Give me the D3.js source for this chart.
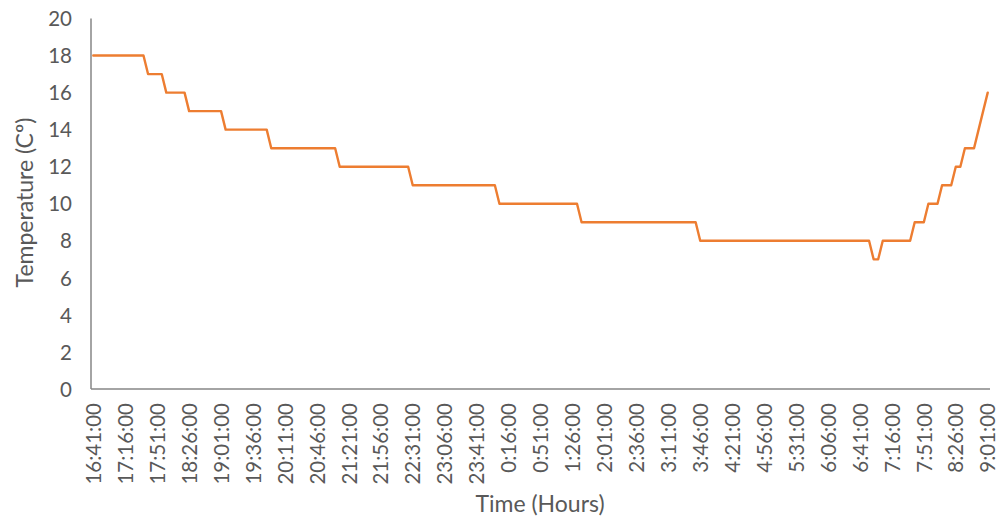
<!DOCTYPE html>
<html>
<head>
<meta charset="utf-8">
<script src="https://cdn.jsdelivr.net/npm/d3@7"></script>
<style>
  html, body { margin: 0; padding: 0; background: #fff; }
  svg { display: block; }
  text { font-family: Lato, "Open Sans", sans-serif; fill: #595959; }
</style>
</head>
<body>
<svg id="chart" width="1001" height="519"></svg>
<script>
// ---- data ----
const startTime = "16:41:00";
const stepMinutes = 5;
const temperatures = [
  18,18,18,18,18,18,18,18,18,18,18,18,
  17,17,17,17,
  16,16,16,16,16,
  15,15,15,15,15,15,15,15,
  14,14,14,14,14,14,14,14,14,14,
  13,13,13,13,13,13,13,13,13,13,13,13,13,13,13,
  12,12,12,12,12,12,12,12,12,12,12,12,12,12,12,12,
  11,11,11,11,11,11,11,11,11,11,11,11,11,11,11,11,11,11,11,
  10,10,10,10,10,10,10,10,10,10,10,10,10,10,10,10,10,10,
  9,9,9,9,9,9,9,9,9,9,9,9,9,9,9,9,9,9,9,9,9,9,9,9,9,9,
  8,8,8,8,8,8,8,8,8,8,8,8,8,8,8,8,8,8,8,8,8,8,8,8,8,8,8,8,8,8,8,8,8,8,8,8,8,8,
  7,7,
  8,8,8,8,8,8,8,
  9,9,9,
  10,10,10,
  11,11,11,
  12,12,
  13,13,13,
  14,
  15,
  16
];
const xTickLabels = [
  "16:41:00","17:16:00","17:51:00","18:26:00","19:01:00","19:36:00","20:11:00",
  "20:46:00","21:21:00","21:56:00","22:31:00","23:06:00","23:41:00","0:16:00",
  "0:51:00","1:26:00","2:01:00","2:36:00","3:11:00","3:46:00","4:21:00",
  "4:56:00","5:31:00","6:06:00","6:41:00","7:16:00","7:51:00","8:26:00","9:01:00"
];
const yTicks = [0,2,4,6,8,10,12,14,16,18,20];
const xTitle = "Time (Hours)";
const yTitle = "Temperature (Cº)";

// category labels (one per reading, 5 minutes apart)
const [sh, sm] = startTime.split(":").map(Number);
const categories = temperatures.map((_, i) => {
  const m = (sh * 60 + sm + i * stepMinutes) % 1440;
  return Math.floor(m / 60) + ":" + String(m % 60).padStart(2, "0") + ":00";
});
const data = categories.map((c, i) => ({ t: c, v: temperatures[i] }));

// ---- layout ----
const svg = d3.select("#chart");
const mLeft = 91, mRight = 990, mTop = 18.5, mBottom = 389;

const x = d3.scalePoint().domain(categories).range([mLeft, mRight]).padding(0.5);
const y = d3.scaleLinear().domain([0, 20]).range([mBottom, mTop]);

const axisColor = "#868686";

// x axis
const gx = svg.append("g").attr("transform", `translate(0,${mBottom})`)
  .call(d3.axisBottom(x).tickValues(categories.filter(c => xTickLabels.includes(c)))
    .tickSize(0).tickSizeOuter(0));
gx.select(".domain").attr("stroke", axisColor).attr("stroke-width", 1.5)
  .attr("d", `M${mLeft},0H${mRight}`);
gx.selectAll(".tick text")
  .attr("transform", "rotate(-90)")
  .attr("text-anchor", "end")
  .attr("x", -14).attr("y", 0).attr("dy", "0.35em")
  .style("font-size", "20.5px")
  .style("font-family", "Lato, 'Open Sans', sans-serif")
  .attr("fill", "#595959");

// y axis
const gy = svg.append("g").attr("transform", `translate(${mLeft},0)`)
  .call(d3.axisLeft(y).tickValues(yTicks).tickSize(0).tickSizeOuter(0));
gy.select(".domain").attr("stroke", axisColor).attr("stroke-width", 1.5)
  .attr("d", `M0,${mTop}V${mBottom}`);
gy.selectAll(".tick text")
  .attr("x", -19).attr("dy", "0.35em")
  .style("font-size", "20.5px")
  .style("font-family", "Lato, 'Open Sans', sans-serif")
  .attr("fill", "#595959");

// line
const line = d3.line().x(d => x(d.t)).y(d => y(d.v));
svg.append("path").datum(data)
  .attr("fill", "none")
  .attr("stroke", "#ED7D31")
  .attr("stroke-width", 2.4)
  .attr("stroke-linejoin", "round")
  .attr("stroke-linecap", "round")
  .attr("d", line);

// titles
svg.append("text")
  .attr("x", 540).attr("y", 511.5)
  .attr("text-anchor", "middle")
  .style("font-size", "23px")
  .text(xTitle);

svg.append("text")
  .attr("transform", "translate(33,202.5) rotate(-90)")
  .attr("text-anchor", "middle")
  .style("font-size", "23px")
  .text(yTitle);
</script>
</body>
</html>
